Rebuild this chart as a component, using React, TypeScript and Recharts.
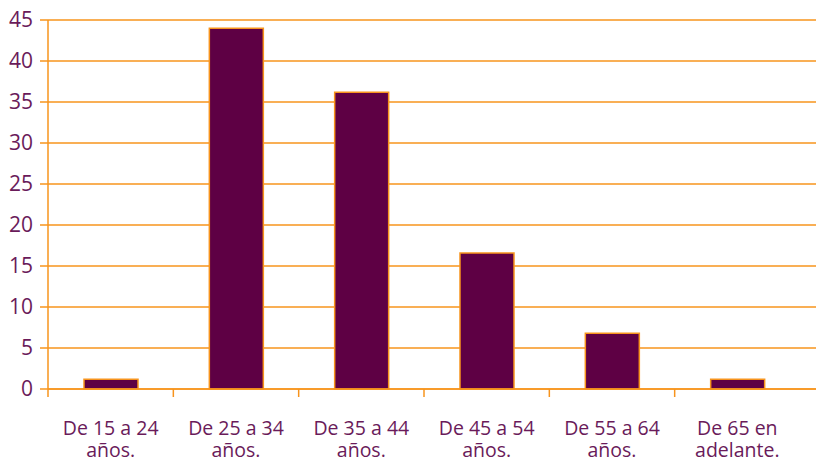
import { BarChart, Bar, XAxis, YAxis, CartesianGrid } from "recharts";

const categories = ["De 15 a 24|años.", "De 25 a 34|años.", "De 35 a 44|años.", "De 45 a 54|años.", "De 55 a 64|años.", "De 65 en|adelante."];
const values = [1.2, 44, 36.2, 16.6, 6.8, 1.2];
const yTicks = [0, 5, 10, 15, 20, 25, 30, 35, 40, 45];

const data = categories.map((c, i) => ({ name: c, value: values[i] }));

const ORANGE = "#F7941D";
const PURPLE_TEXT = "#6A1B5A";
const BAR_FILL = "#5E0044";
const BAND = (800 - 48) / categories.length;

function XTick(props: any) {
  const { x, y, payload } = props;
  const lines = String(payload.value).split("|");
  return (
    <g>
      <line x1={x - BAND / 2} x2={x - BAND / 2} y1={y - 8} y2={y} stroke={ORANGE} strokeWidth={1.5} />
      <text x={x} y={y + 38} textAnchor="middle" fill={PURPLE_TEXT} fontSize={19.5} fontFamily="'Open Sans', sans-serif">
        {lines.map((l, i) => (
          <tspan key={i} x={x} dy={i === 0 ? 0 : 22}>{l}</tspan>
        ))}
      </text>
    </g>
  );
}

export default function App() {
  return (
    <div style={{ position: "absolute", left: 0, top: 0, background: "#fff" }}>
      <BarChart width={816} height={462} data={data} margin={{ top: 20, right: 0, left: 0, bottom: 0 }}>
        <CartesianGrid vertical={false} stroke={ORANGE} strokeWidth={1.5} />
        <XAxis
          dataKey="name"
          height={73}
          padding={{ left: 0, right: 16 }}
          axisLine={{ stroke: ORANGE, strokeWidth: 1.5 }}
          tickLine={false}
          tick={<XTick />}
          interval={0}
        />
        <YAxis
          width={48}
          domain={[0, 45]}
          ticks={yTicks}
          axisLine={{ stroke: ORANGE, strokeWidth: 1.5 }}
          tickLine={{ stroke: ORANGE, strokeWidth: 1.5 }}
          tickSize={8}
          tickMargin={7}
          tick={{ fill: PURPLE_TEXT, fontSize: 21, fontFamily: "'Open Sans', sans-serif" }}
        />
        <Bar dataKey="value" fill={BAR_FILL} stroke={ORANGE} strokeWidth={1.5} barSize={54} isAnimationActive={false} />
      </BarChart>
    </div>
  );
}
